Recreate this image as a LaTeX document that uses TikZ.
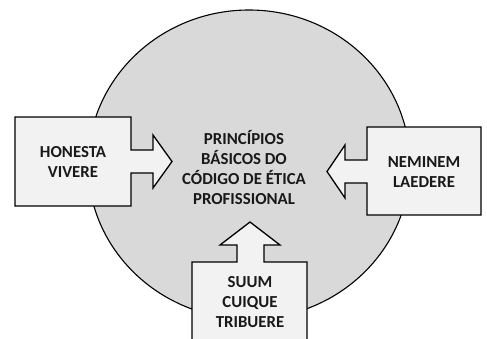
\documentclass[tikz,border=0pt]{standalone}
\usepackage{fontspec}
\setmainfont{Carlito}[BoldFont={Carlito Bold}]
\begin{document}
\begin{tikzpicture}[x=1pt,y=-1pt,
  callout/.style={draw=black, fill=boxgray, line width=1.3pt, line join=miter},
  lbl/.style={font=\bfseries\fontsize{16.8}{20}\selectfont, align=center, text=black!90, inner sep=0pt}]
\definecolor{boxgray}{HTML}{F2F2F2}
\definecolor{circgray}{HTML}{D9D9D9}
\useasboundingbox (0,0) rectangle (487,338);
\clip (0,0) rectangle (487,338);
\fill[white] (0,0) rectangle (487,338);
\draw[fill=circgray, line width=1.1pt] (249,164.5) ellipse [x radius=161, y radius=154.5];
\draw[callout] (15,117) -- (131,117) -- (131,150) -- (153,150) -- (153,135) -- (172,161.5) -- (153,188) -- (153,173) -- (131,173) -- (131,206) -- (15,206) -- cycle;
\draw[callout] (481,127) -- (367,127) -- (367,160) -- (345,160) -- (345,145) -- (327,171.5) -- (345,198) -- (345,183) -- (367,183) -- (367,215) -- (481,215) -- cycle;
\draw[callout] (192,345) -- (192,262) -- (237,262) -- (237,245) -- (220,245) -- (250,222) -- (280,245) -- (264,245) -- (264,262) -- (307,262) -- (307,345);
\node[lbl] (center) at (244,167) {PRINCÍPIOS\\BÁSICOS DO\\CÓDIGO DE ÉTICA\\PROFISSIONAL};
\node[lbl] (honesta) at (73,162) {HONESTA\\VIVERE};
\node[lbl] (neminem) at (424,172) {NEMINEM\\LAEDERE};
\node[lbl] (suum) at (250,302) {SUUM\\CUIQUE\\TRIBUERE};
\end{tikzpicture}
\end{document}
